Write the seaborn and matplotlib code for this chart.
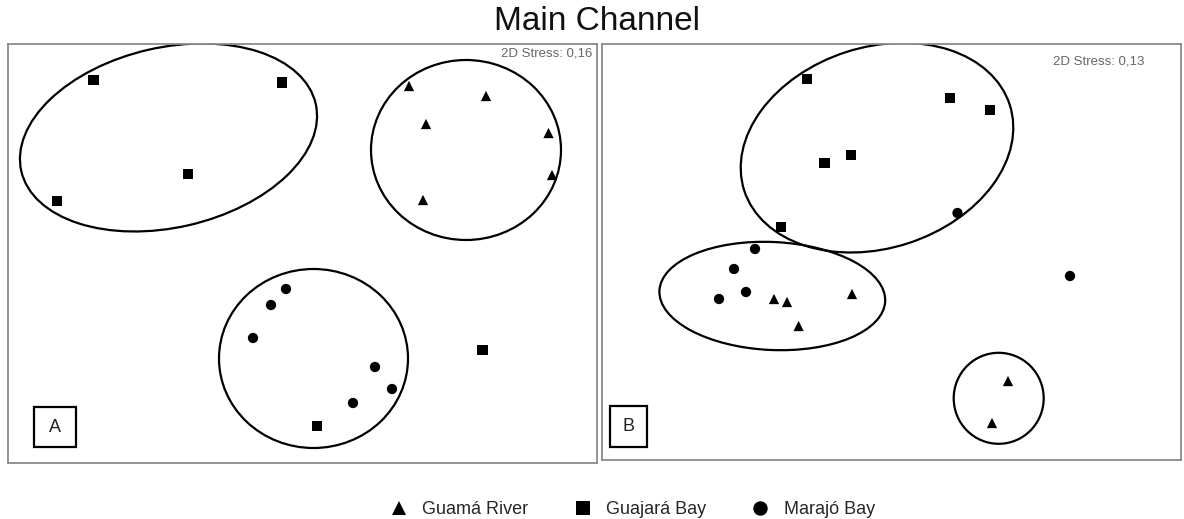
import numpy as np
import pandas as pd
import matplotlib
matplotlib.use("Agg")
import matplotlib.pyplot as plt
from matplotlib.patches import Ellipse, Rectangle
import seaborn as sns

# NMDS coordinates (arbitrary units)
sites = ["Guajará Bay"] * 6 + ["Guamá River"] * 6 + ["Marajó Bay"] * 6

a_x = [93.6, 281.7, 188, 57, 482.6, 317,
       409, 486, 426, 548.5, 552, 423,
       286, 271, 253, 375, 392, 353]
a_y = [80, 82.6, 174, 201, 350, 426,
       86, 96, 124, 133, 175, 200,
       289, 305, 338, 367, 389, 403]

b_x = [807, 950, 990, 851, 824.5, 781,
       774, 787, 852, 798.6, 1008, 992,
       957.5, 755, 734, 746, 719, 1070]
b_y = [79, 98, 110, 155, 163, 227,
       299, 302, 294, 326, 381, 423,
       213, 249, 269, 292, 299, 276]

# group ellipses: (cx, cy, width, height, angle)
a_ellipses = [(168.5, 137.5, 302, 180, -12.9),
              (466, 150, 190, 180, 0),
              (313.5, 358.5, 189, 179, 0)]
b_ellipses = [(877, 147.7, 279, 201, -17.9),
              (772.3, 296, 226, 108, 2.7),
              (998.7, 398.3, 90, 91, 0)]

stress = ["2D Stress: 0,16", "2D Stress: 0,13"]
labels = ["A", "B"]

hue_order = ["Guamá River", "Guajará Bay", "Marajó Bay"]
markers = {"Guamá River": "^", "Guajará Bay": "s", "Marajó Bay": "o"}

df_a = pd.DataFrame({"x": a_x, "y": a_y, "site": sites})
df_b = pd.DataFrame({"x": b_x, "y": b_y, "site": sites})

sns.set_style("white")
plt.rcParams['font.family'] = ['Liberation Sans', 'DejaVu Sans']

fig = plt.figure(figsize=(11.84, 5.19), dpi=100)
ax_a = fig.add_axes([8 / 1184, 56 / 519, 589 / 1184, 419 / 519])
ax_b = fig.add_axes([602 / 1184, 59 / 519, 579 / 1184, 416 / 519])

panels = [
    (ax_a, df_a, a_ellipses, (8, 597), (463, 44), (592, 53), (34, 407, 42, 40)),
    (ax_b, df_b, b_ellipses, (602, 1181), (460, 44), (1144, 62), (610, 406, 37, 41)),
]

for i, (ax, df, ells, xl, yl, spos, box) in enumerate(panels):
    sns.scatterplot(data=df, x="x", y="y", style="site", style_order=hue_order,
                    markers=markers, color="black", s=55, linewidth=0,
                    legend=(i == 0), ax=ax)
    for cx, cy, w, h, ang in ells:
        ax.add_patch(Ellipse((cx, cy), w, h, angle=ang, fill=False,
                             edgecolor="black", lw=1.6))
    ax.set_xlim(*xl)
    ax.set_ylim(*yl)
    ax.set_xticks([])
    ax.set_yticks([])
    ax.set_xlabel("")
    ax.set_ylabel("")
    for sp in ax.spines.values():
        sp.set_color("#8a8a8a")
        sp.set_linewidth(1.3)
    ax.text(spos[0], spos[1], stress[i], ha="right", va="center",
            fontsize=9.5, color="#666666")
    bx, by, bw, bh = box
    ax.add_patch(Rectangle((bx, by), bw, bh, fill=False, edgecolor="black", lw=1.6))
    ax.text(bx + bw / 2, by + bh / 2, labels[i], ha="center", va="center",
            fontsize=13, color="#222222")

handles, lbls = ax_a.get_legend_handles_labels()
ax_a.get_legend().remove()
fig.legend(handles, lbls, loc="center", bbox_to_anchor=(628 / 1184, 1 - 510 / 519),
           ncol=3, frameon=False, fontsize=13, handletextpad=0.3,
           columnspacing=2.0, markerscale=1.4)

fig.text(597 / 1184, 1 - 21 / 519, "Main Channel", ha="center", va="center",
         fontsize=24, color="#111111")

fig.savefig("out.png", dpi=100)
